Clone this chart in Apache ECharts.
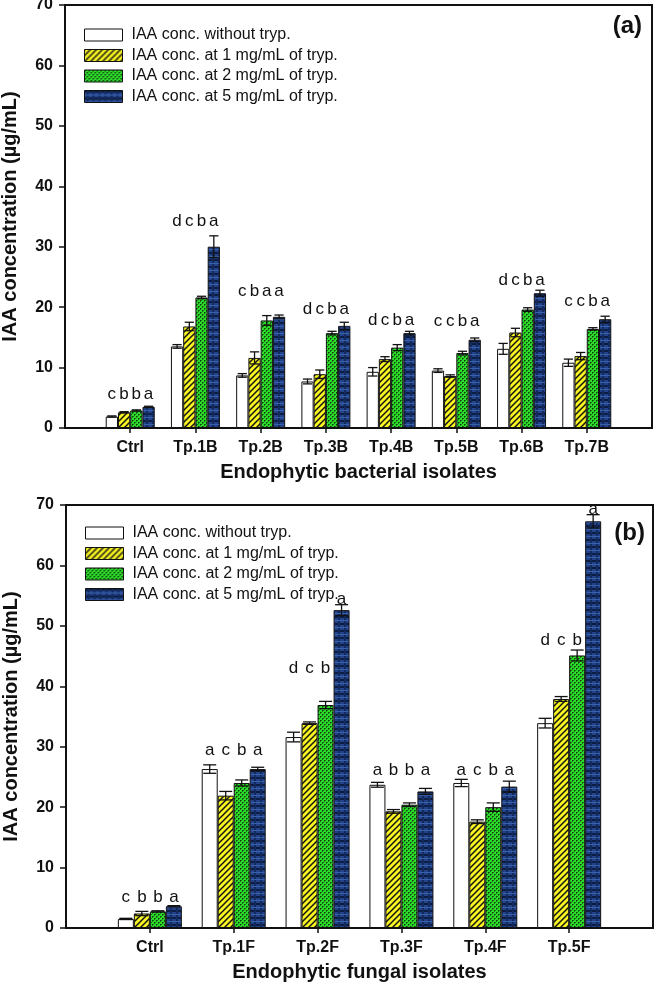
<!DOCTYPE html>
<html>
<head>
<meta charset="utf-8">
<script src="https://cdn.jsdelivr.net/npm/echarts@6/dist/echarts.min.js"></script>
<style>
html,body{margin:0;padding:0;background:#fff;}
#chart{width:655px;height:985px;}
</style>
</head>
<body>
<div id="chart"></div>
<script>
// ---------- DATA ----------
const seriesNames = ['IAA conc. without tryp.', 'IAA conc. at 1 mg/mL of tryp.', 'IAA conc. at 2 mg/mL of tryp.', 'IAA conc. at 5 mg/mL of tryp.'];
const yTicks = [0, 10, 20, 30, 40, 50, 60, 70];

// Panel (a): bacterial isolates
const catsA = ['Ctrl', 'Tp.1B', 'Tp.2B', 'Tp.3B', 'Tp.4B', 'Tp.5B', 'Tp.6B', 'Tp.7B'];
const noTrypA = [1.9, 13.5, 8.7, 7.7, 9.3, 9.5, 13.1, 10.8];
const tryp1A  = [2.6, 16.8, 11.6, 8.9, 11.4, 8.6, 15.8, 11.9];
const tryp2A  = [2.9, 21.6, 17.8, 15.7, 13.3, 12.4, 19.6, 16.4];
const tryp5A  = [3.5, 30.0, 18.4, 16.9, 15.7, 14.6, 22.3, 18.0];
const errNoA  = [0.1, 0.3, 0.3, 0.4, 0.7, 0.3, 0.9, 0.6];
const err1A   = [0.1, 0.7, 1.0, 0.7, 0.4, 0.2, 0.7, 0.6];
const err2A   = [0.1, 0.2, 0.8, 0.3, 0.5, 0.3, 0.3, 0.2];
const err5A   = [0.1, 1.8, 0.3, 0.6, 0.3, 0.3, 0.5, 0.5];
const lettersA = ['cbba', 'dcba', 'cbaa', 'dcba', 'dcba', 'ccba', 'dcba', 'ccba'];
const letterYA = [5.5, 34.2, 22.6, 19.6, 17.9, 17.6, 24.5, 20.9];

// Panel (b): fungal isolates
const catsB = ['Ctrl', 'Tp.1F', 'Tp.2F', 'Tp.3F', 'Tp.4F', 'Tp.5F'];
const noTrypB = [1.5, 26.3, 31.6, 23.7, 24.0, 33.9];
const tryp1B  = [2.4, 21.9, 33.9, 19.3, 17.6, 37.9];
const tryp2B  = [2.75, 24.0, 36.9, 20.4, 20.0, 45.1];
const tryp5B  = [3.6, 26.3, 52.6, 22.6, 23.4, 67.3];
const errNoB  = [0.1, 0.7, 0.8, 0.4, 0.6, 0.8];
const err1B   = [0.35, 0.7, 0.2, 0.3, 0.3, 0.4];
const err2B   = [0.1, 0.5, 0.6, 0.3, 0.7, 0.9];
const err5B   = [0.1, 0.3, 0.9, 0.5, 0.9, 1.1];
const lettersB = ['cbba', 'acba', 'dcba', 'abba', 'acba', 'dcba'];
const letterYB = [5.0, 29.4, 43.0, 26.1, 26.1, 47.6];

// ---------- PATTERNS ----------
function mk(w, h, draw) { const c = document.createElement('canvas'); c.width = w; c.height = h; draw(c.getContext('2d'), w, h); return c; }
const patYellow = mk(6, 6, (g, w, h) => {
  g.fillStyle = '#f8f420'; g.fillRect(0, 0, w, h);
  g.strokeStyle = '#151515'; g.lineWidth = 1.5;
  g.beginPath();
  g.moveTo(-1, h + 1); g.lineTo(w + 1, -1);
  g.moveTo(-1, 1); g.lineTo(1, -1);
  g.moveTo(w - 1, h + 1); g.lineTo(w + 1, h - 1);
  g.stroke();
});
const patGreen = mk(4, 4, (g, w, h) => {
  g.fillStyle = '#2ddc2a'; g.fillRect(0, 0, w, h);
  g.fillStyle = '#0d3d0b';
  g.fillRect(0, 0, 1, 1); g.fillRect(2, 2, 1, 1);
  g.fillStyle = '#1c7a19';
  g.fillRect(1, 0, 1, 1); g.fillRect(0, 1, 1, 1); g.fillRect(3, 2, 1, 1); g.fillRect(2, 3, 1, 1);
});
const patBlue = mk(6, 7, (g, w, h) => {
  g.fillStyle = '#22438a'; g.fillRect(0, 0, w, h);
  g.fillStyle = '#0e1d42'; g.fillRect(0, 0, w, 2);
  g.fillStyle = '#132a5e'; g.fillRect(2, 0, 2, h);
  g.fillStyle = '#3a60aa'; g.fillRect(0, 4, w, 1);
});
const fills = ['#ffffff', { image: patYellow, repeat: 'repeat' }, { image: patGreen, repeat: 'repeat' }, { image: patBlue, repeat: 'repeat' }];

// ---------- BUILD ----------
const FONT = '"Liberation Sans", Arial, sans-serif';
const pad = arr => [''].concat(arr, ['']);

function panelSeries(gi, cats, vals, errs, letters, letterY, bw) {
  const out = [];
  vals.forEach((v, j) => {
    out.push({
      type: 'bar', name: seriesNames[j], xAxisIndex: gi, yAxisIndex: gi,
      barWidth: bw, barGap: '0%',
      itemStyle: { color: fills[j], borderColor: '#111', borderWidth: 1 },
      data: ['-'].concat(v, ['-']),
      z: 2
    });
  });
  const errData = [];
  cats.forEach((c, i) => { for (let j = 0; j < 4; j++) errData.push([i + 1, j, vals[j][i], errs[j][i]]); });
  out.push({
    type: 'custom', xAxisIndex: gi, yAxisIndex: gi, z: 5, silent: true,
    data: errData,
    renderItem: function (params, api) {
      const x = api.value(0), j = api.value(1), v = api.value(2), e = api.value(3);
      const t = api.coord([x, v + e]), b = api.coord([x, v - e]);
      const cx = t[0] + (j - 1.5) * bw;
      const hw = bw / 2 - 1.5;
      const st = { stroke: '#111', lineWidth: 1.3 };
      return { type: 'group', children: [
        { type: 'line', shape: { x1: cx, y1: t[1], x2: cx, y2: b[1] }, style: st },
        { type: 'line', shape: { x1: cx - hw, y1: t[1], x2: cx + hw, y2: t[1] }, style: st },
        { type: 'line', shape: { x1: cx - hw, y1: b[1], x2: cx + hw, y2: b[1] }, style: st }
      ] };
    }
  });
  out.push({
    type: 'custom', xAxisIndex: gi, yAxisIndex: gi, z: 6, silent: true,
    data: cats.map((c, i) => [i + 1, letterY[i]]),
    renderItem: function (params, api) {
      const i = params.dataIndex;
      const ch = [];
      for (let j = 0; j < 4; j++) {
        const top = vals[j][i] + errs[j][i];
        const above = top + 0.5 > letterY[i];
        const ly = above ? top + 0.9 : letterY[i];
        const p = api.coord([i + 1, ly]);
        ch.push({ type: 'text', style: { x: p[0] + (j - 1.5) * bw, y: p[1], text: letters[i][j], fill: '#111',
          font: '17px ' + FONT, textAlign: 'center', textVerticalAlign: 'middle' } });
      }
      return { type: 'group', children: ch };
    }
  });
  return out;
}

function xAxisCfg(gi, cats, name) {
  return {
    type: 'category', gridIndex: gi, data: pad(cats), boundaryGap: false,
    axisLine: { lineStyle: { color: '#111', width: 2 } },
    axisTick: { length: 5, lineStyle: { width: 1.5, color: '#111' }, interval: (idx, val) => val !== '' },
    axisLabel: { interval: 0, color: '#111', fontSize: 16, fontWeight: 'bold', fontFamily: FONT, margin: 12 },
    name: name, nameLocation: 'middle', nameGap: 34,
    nameTextStyle: { color: '#111', fontSize: 20, fontWeight: 'bold', fontFamily: FONT },
    splitLine: { show: false }
  };
}
function yAxisCfg(gi) {
  return {
    type: 'value', gridIndex: gi, min: yTicks[0], max: yTicks[yTicks.length - 1], interval: yTicks[1] - yTicks[0],
    axisLine: { show: true, lineStyle: { color: '#111', width: 2 } },
    axisTick: { show: true, length: 6, lineStyle: { width: 1.5, color: '#111' } },
    axisLabel: { color: '#111', fontSize: 16, fontWeight: 'bold', fontFamily: FONT, margin: 12 },
    splitLine: { show: false },
    name: 'IAA concentration (µg/mL)', nameLocation: 'middle', nameGap: 45, nameRotate: 90,
    nameTextStyle: { color: '#111', fontSize: 20, fontWeight: 'bold', fontFamily: FONT }
  };
}
function legendCfg(top, left) {
  return {
    orient: 'vertical', left: left, top: top, itemWidth: 38, itemHeight: 12, itemGap: 4.5,
    icon: 'rect',
    data: seriesNames, selectedMode: false,
    textStyle: { color: '#111', fontSize: 16, lineHeight: 16, fontFamily: FONT, padding: [0, 0, 0, 4] },
    itemStyle: { borderColor: '#111', borderWidth: 1 }
  };
}

const chart = echarts.init(document.getElementById('chart'), null, { renderer: 'canvas' });
chart.setOption({
  animation: false,
  backgroundColor: '#fff',
  grid: [
    { left: 65, top: 5, width: 587, height: 423, show: true, borderColor: '#111', borderWidth: 2, backgroundColor: 'transparent', containLabel: false, outerBoundsMode: 'none' },
    { left: 66, top: 505, width: 587, height: 423, show: true, borderColor: '#111', borderWidth: 2, backgroundColor: 'transparent', containLabel: false, outerBoundsMode: 'none' }
  ],
  legend: [legendCfg(22, 79), legendCfg(520, 80)],
  xAxis: [xAxisCfg(0, catsA, 'Endophytic bacterial isolates'), xAxisCfg(1, catsB, 'Endophytic fungal isolates')],
  yAxis: [yAxisCfg(0), yAxisCfg(1)],
  graphic: [
    { type: 'text', right: 13, top: 14, style: { text: '(a)', font: 'bold 24px ' + FONT, fill: '#111' } },
    { type: 'text', right: 10, top: 521, style: { text: '(b)', font: 'bold 24px ' + FONT, fill: '#111' } }
  ],
  series: []
    .concat(panelSeries(0, catsA, [noTrypA, tryp1A, tryp2A, tryp5A], [errNoA, err1A, err2A, err5A], lettersA, letterYA, 12.25))
    .concat(panelSeries(1, catsB, [noTrypB, tryp1B, tryp2B, tryp5B], [errNoB, err1B, err2B, err5B], lettersB, letterYB, 16))
});
</script>
</body>
</html>
